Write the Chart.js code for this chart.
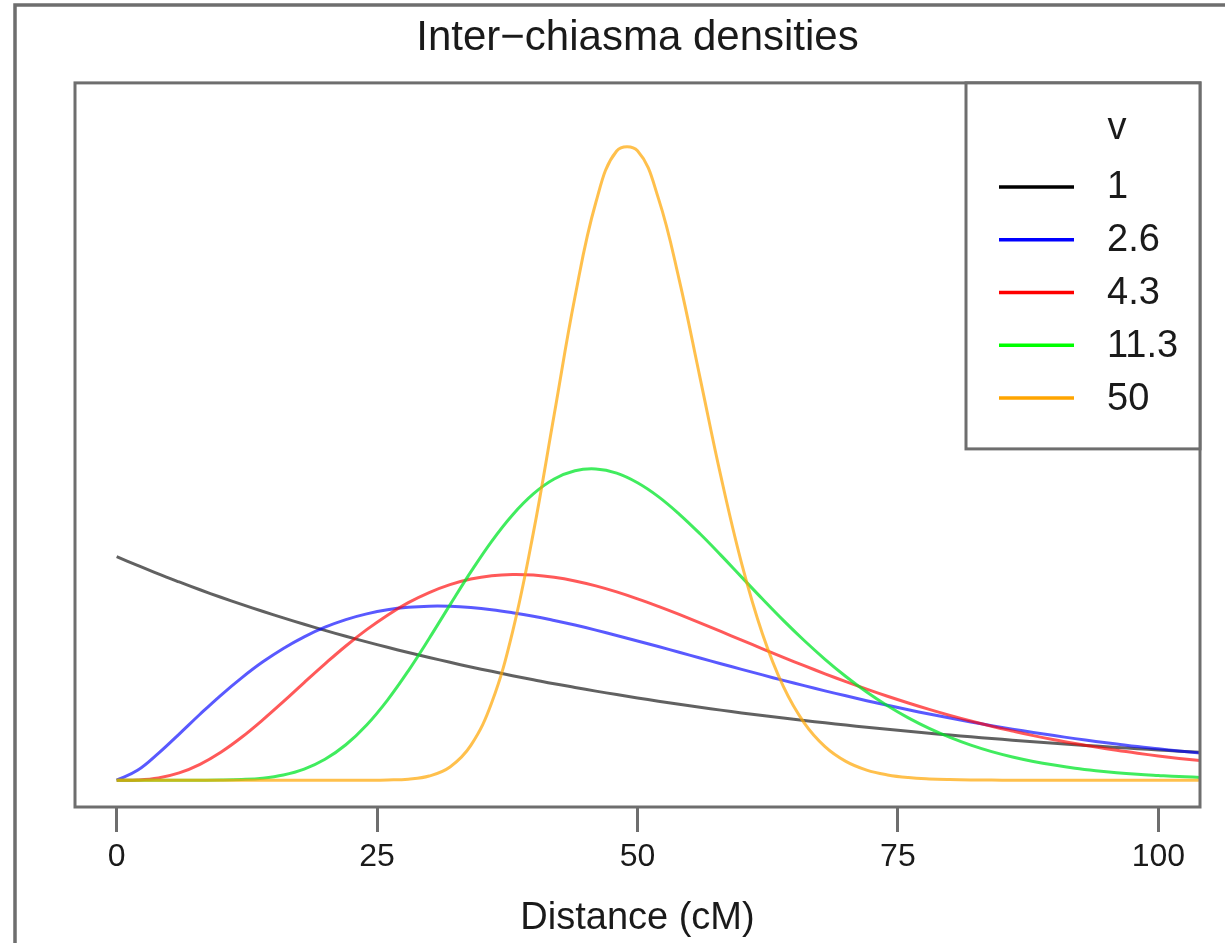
<!DOCTYPE html>
<html>
<head>
<meta charset="utf-8">
<title>Inter-chiasma densities</title>
<script src="https://cdn.jsdelivr.net/npm/chart.js@4.4.1/dist/chart.umd.min.js"></script>
<style>
  html, body { margin: 0; padding: 0; background: #fff; }
  canvas { display: block; }
</style>
</head>
<body>
<canvas id="myChart" width="1225" height="943"></canvas>
<script>
// distance along the chromosome, cM
var distances = [0, 2, 4, 6, 8, 10, 12, 14, 16, 18, 20, 22, 24, 26, 28, 30, 32, 34, 36, 38,
  40, 42, 44, 46, 48, 50, 52, 54, 56, 58, 60, 62, 64, 66, 68, 70, 72, 74, 76, 78,
  80, 82, 84, 86, 88, 90, 92, 94, 96, 98, 100, 102, 104];

var nuLabels = ['1', '2.6', '4.3', '11.3', '50'];
var xTicks = [0, 25, 50, 75, 100];

// density values
var densityNu1 = [2.000, 1.922, 1.846, 1.774, 1.704, 1.637, 1.573, 1.512, 1.452, 1.395,
  1.341, 1.288, 1.238, 1.189, 1.142, 1.098, 1.055, 1.013, 0.974, 0.935,
  0.899, 0.863, 0.830, 0.797, 0.766, 0.736, 0.707, 0.679, 0.653, 0.627,
  0.602, 0.579, 0.556, 0.534, 0.513, 0.493, 0.474, 0.455, 0.437, 0.420,
  0.404, 0.388, 0.373, 0.358, 0.344, 0.331, 0.318, 0.305, 0.293, 0.282,
  0.271, 0.260, 0.250];
var densityNu26 = [0, 0.088, 0.240, 0.413, 0.590, 0.760, 0.916, 1.057, 1.179, 1.283,
  1.369, 1.437, 1.488, 1.525, 1.547, 1.557, 1.556, 1.545, 1.526, 1.499,
  1.467, 1.429, 1.388, 1.343, 1.295, 1.246, 1.196, 1.145, 1.094, 1.042,
  0.992, 0.942, 0.893, 0.846, 0.799, 0.755, 0.711, 0.670, 0.630, 0.592,
  0.556, 0.521, 0.488, 0.457, 0.427, 0.399, 0.372, 0.347, 0.324, 0.301,
  0.281, 0.261, 0.243];
var densityNu43 = [0, 0.002, 0.020, 0.065, 0.142, 0.250, 0.384, 0.538, 0.703, 0.874,
  1.041, 1.201, 1.347, 1.477, 1.589, 1.679, 1.750, 1.800, 1.830, 1.841,
  1.836, 1.816, 1.783, 1.739, 1.685, 1.623, 1.555, 1.483, 1.408, 1.331,
  1.253, 1.176, 1.099, 1.025, 0.952, 0.882, 0.815, 0.751, 0.691, 0.634,
  0.580, 0.530, 0.483, 0.440, 0.399, 0.362, 0.328, 0.296, 0.267, 0.241,
  0.217, 0.195, 0.175];
var densityNu113 = [0, 0, 0, 0, 0, 0.001, 0.006, 0.018, 0.046, 0.099,
  0.187, 0.317, 0.494, 0.717, 0.979, 1.268, 1.569, 1.864, 2.138, 2.374,
  2.562, 2.695, 2.769, 2.785, 2.748, 2.662, 2.538, 2.382, 2.205, 2.014,
  1.817, 1.621, 1.430, 1.250, 1.082, 0.928, 0.789, 0.666, 0.558, 0.464,
  0.383, 0.314, 0.256, 0.208, 0.168, 0.135, 0.107, 0.085, 0.067, 0.053,
  0.042, 0.032, 0.025];
var densityNu50 = [0, 0, 0, 0, 0, 0, 0, 0, 0, 0,
  0, 0, 0, 0.002, 0.009, 0.037, 0.118, 0.311, 0.692, 1.325,
  2.213, 3.271, 4.326, 5.170, 5.631, 5.633, 5.209, 4.480, 3.603, 2.721,
  1.939, 1.309, 0.839, 0.513, 0.300, 0.168, 0.090, 0.047, 0.023, 0.011,
  0.005, 0.002, 0.001, 0, 0, 0, 0, 0, 0, 0,
  0, 0, 0];

var series = [densityNu1, densityNu26, densityNu43, densityNu113, densityNu50];
var lineColors = ['#000000', '#0000ff', '#ff0000', '#00ff00', '#ffa500'];
var curveColors = ['rgba(0,0,0,0.62)', 'rgba(0,0,255,0.65)', 'rgba(255,0,0,0.65)',
  'rgba(0,230,40,0.75)', 'rgba(255,165,0,0.7)'];

var frameColor = '#6e6e6e';
var textColor = '#1a1a1a';

Chart.defaults.font.family = '"Liberation Sans", Arial, Helvetica, sans-serif';
Chart.defaults.color = textColor;

var datasets = [];
for (var i = 0; i < series.length; i++) {
  datasets.push({
    label: nuLabels[i],
    data: distances.map(function (d, j) { return { x: d, y: series[i][j] }; }),
    borderColor: curveColors[i],
    borderWidth: 3,
    pointRadius: 0,
    fill: false,
    tension: 0.4,
    order: series.length - i
  });
}

// outer figure frame, cut off at right and bottom
var outerFrame = {
  id: 'outerFrame',
  beforeDraw: function (chart) {
    var ctx = chart.ctx;
    ctx.save();
    ctx.strokeStyle = frameColor;
    ctx.lineWidth = 3.5;
    ctx.beginPath();
    ctx.moveTo(15, chart.height + 5);
    ctx.lineTo(15, 5);
    ctx.lineTo(chart.width + 5, 5);
    ctx.stroke();
    ctx.restore();
  }
};

// box around the plot region plus the legend in the top right corner
var plotBox = {
  id: 'plotBox',
  afterDraw: function (chart) {
    var ctx = chart.ctx, a = chart.chartArea;
    ctx.save();
    ctx.strokeStyle = frameColor;
    ctx.lineWidth = 3;
    ctx.strokeRect(a.left, a.top, a.right - a.left, a.bottom - a.top);

    var left = a.right - 234, top = a.top, bottom = a.top + 366;
    ctx.fillStyle = '#fff';
    ctx.fillRect(left, top, a.right - left, bottom - top);
    ctx.strokeRect(left, top, a.right - left, bottom - top);

    ctx.font = '38px "Liberation Sans", Arial, sans-serif';
    ctx.fillStyle = textColor;
    ctx.textBaseline = 'middle';
    ctx.textAlign = 'center';
    ctx.fillText('v', left + 151, top + 46);
    ctx.textAlign = 'left';
    for (var i = 0; i < nuLabels.length; i++) {
      var y = top + 104 + i * 52.8;
      ctx.strokeStyle = lineColors[i];
      ctx.lineWidth = 3.5;
      ctx.beginPath();
      ctx.moveTo(left + 33, y);
      ctx.lineTo(left + 108, y);
      ctx.stroke();
      ctx.fillText(nuLabels[i], left + 141, y + 1);
    }
    ctx.restore();
  }
};

var ctx = document.getElementById('myChart');
var myChart = new Chart(ctx, {
  type: 'line',
  data: { datasets: datasets },
  options: {
    responsive: false,
    animation: false,
    devicePixelRatio: 1,
    layout: { padding: { left: 75, right: 25, top: 0, bottom: 0 } },
    plugins: {
      legend: { display: false },
      tooltip: { enabled: false },
      title: {
        display: true,
        text: 'Inter\u2212chiasma densities',
        fullSize: false,
        color: textColor,
        font: { size: 42, weight: 'normal' },
        padding: { top: 13.5, bottom: 19 }
      }
    },
    scales: {
      x: {
        type: 'linear',
        min: -4,
        max: 104,
        afterBuildTicks: function (scale) {
          scale.ticks = xTicks.map(function (v) { return { value: v }; });
        },
        afterFit: function (scale) { scale.height = 136; },
        border: { display: false },
        grid: {
          drawOnChartArea: false,
          drawTicks: true,
          tickLength: 25,
          tickWidth: 3,
          tickColor: frameColor
        },
        ticks: {
          font: { size: 32 },
          color: textColor,
          padding: 6,
          maxRotation: 0
        },
        title: {
          display: true,
          text: 'Distance (cM)',
          color: textColor,
          font: { size: 38 },
          padding: { top: 0, bottom: 2 }
        }
      },
      y: {
        type: 'linear',
        display: false,
        min: -0.24,
        max: 6.24
      }
    }
  },
  plugins: [outerFrame, plotBox]
});
</script>
</body>
</html>
